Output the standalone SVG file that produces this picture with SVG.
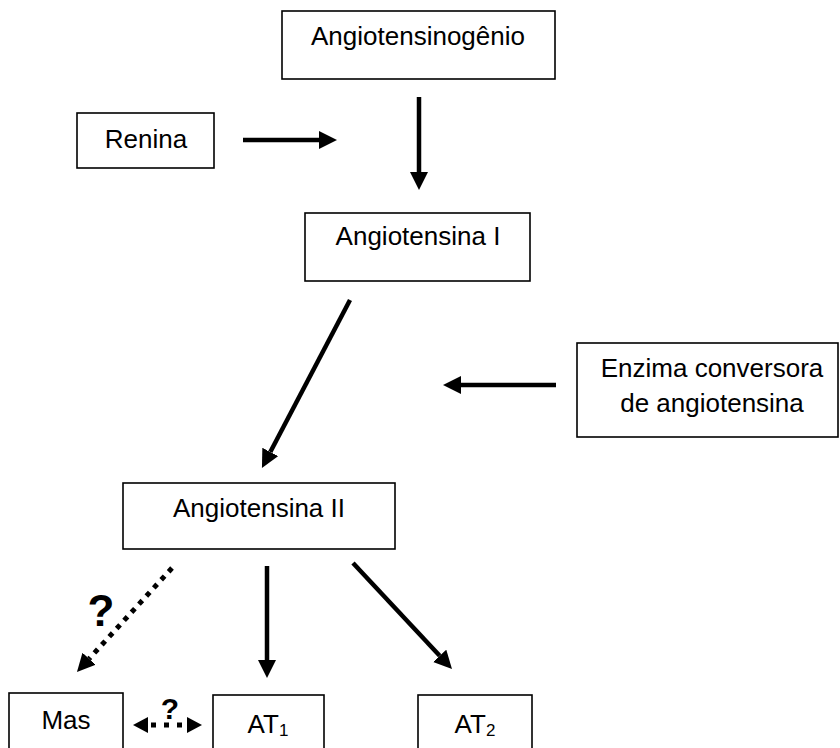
<svg xmlns="http://www.w3.org/2000/svg" width="840" height="748" viewBox="0 0 840 748">
<defs>
<style>
.box{fill:#fff;stroke:#000;stroke-width:1.6}
.t{font-family:"Liberation Sans",Arial,sans-serif;font-size:26px;fill:#000;text-anchor:middle}
.q{font-family:"Liberation Sans",Arial,sans-serif;font-weight:bold;fill:#000;text-anchor:middle}
.ln{stroke:#000;stroke-width:4.5;fill:none}
.dot{stroke:#000;stroke-width:5;fill:none;stroke-dasharray:5 6}
</style>
<marker id="ah" markerUnits="userSpaceOnUse" markerWidth="20" markerHeight="20" refX="0" refY="9" orient="auto">
<path d="M0,0 L18,9 L0,18 z" fill="#000"/>
</marker>
</defs>
<rect width="840" height="748" fill="#fff"/>
<g id="connectors">
<line class="ln" x1="243" y1="140" x2="319" y2="140" marker-end="url(#ah)"/>
<line class="ln" x1="419" y1="97" x2="419" y2="172" marker-end="url(#ah)"/>
<line class="ln" x1="350" y1="300" x2="270.3" y2="452" marker-end="url(#ah)"/>
<line class="ln" x1="556" y1="385" x2="461" y2="385" marker-end="url(#ah)"/>
<line class="dot" x1="172" y1="568" x2="89.1" y2="658.7" marker-end="url(#ah)"/>
<line class="ln" x1="267" y1="566" x2="267" y2="660" marker-end="url(#ah)"/>
<line class="ln" x1="353" y1="563" x2="439.7" y2="655.8" marker-end="url(#ah)"/>
<line class="dot" x1="151" y1="725" x2="182" y2="725" style="stroke-dasharray:5 8"/>
<path d="M148,717 L133,725 L148,733 z M187,717 L202,725 L187,733 z" fill="#000"/>
<text class="q" x="101" y="626" font-size="44">?</text>
<text class="q" x="170" y="719" font-size="30">?</text>
</g>
<g id="angiotensinogenio">
<rect class="box" x="282" y="11" width="273" height="68"/>
<text class="t" x="418" y="45">Angiotensinogênio</text>
</g>
<g id="renina">
<rect class="box" x="77" y="113" width="137" height="55"/>
<text class="t" x="146" y="148">Renina</text>
</g>
<g id="angiotensina1">
<rect class="box" x="305" y="213" width="225" height="68"/>
<text class="t" x="418" y="245">Angiotensina I</text>
</g>
<g id="eca">
<rect class="box" x="577" y="343" width="261" height="94"/>
<text class="t" x="712" y="377">Enzima conversora</text>
<text class="t" x="712" y="412">de angiotensina</text>
</g>
<g id="angiotensina2">
<rect class="box" x="123" y="483" width="272" height="66"/>
<text class="t" x="259" y="517">Angiotensina II</text>
</g>
<g id="mas">
<rect class="box" x="9" y="693" width="114" height="70"/>
<text class="t" x="66" y="729">Mas</text>
</g>
<g id="at1">
<rect class="box" x="213" y="695" width="111" height="70"/>
<text class="t" x="268" y="733">AT<tspan font-size="17" dy="3">1</tspan></text>
</g>
<g id="at2">
<rect class="box" x="418" y="695" width="114" height="70"/>
<text class="t" x="475" y="733">AT<tspan font-size="17" dy="3">2</tspan></text>
</g>
</svg>
